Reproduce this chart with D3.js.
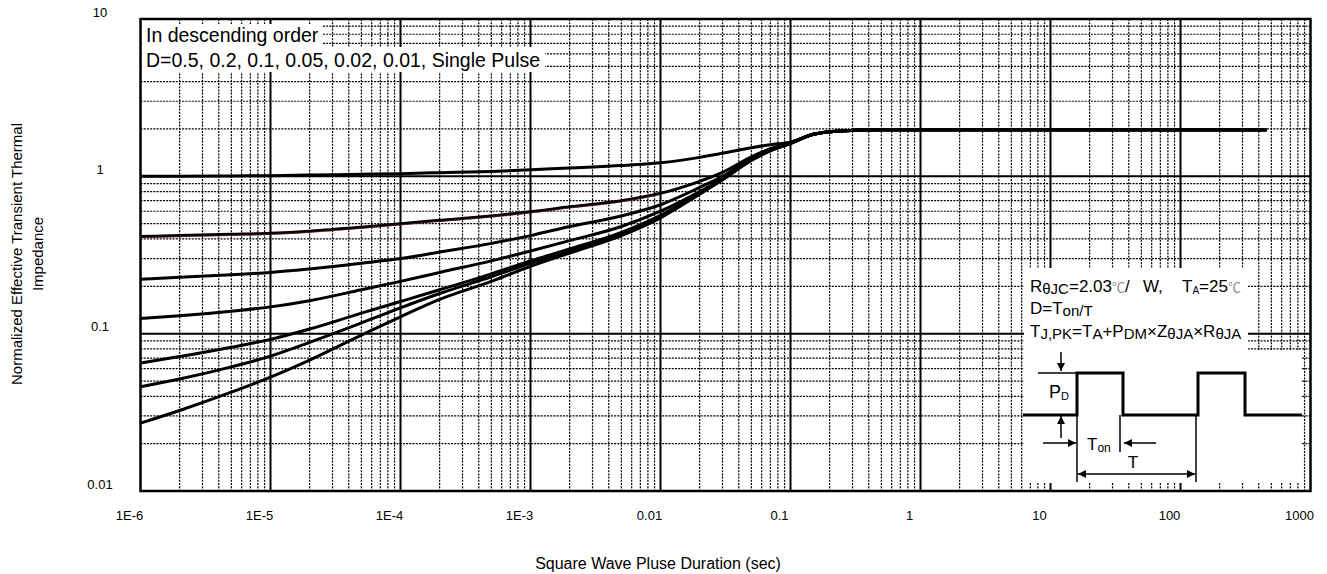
<!DOCTYPE html>
<html lang="en">
<head>
<meta charset="UTF-8">
<title>Normalized Effective Transient Thermal Impedance</title>
<script src="https://cdn.jsdelivr.net/npm/d3@7"></script>
<style>
    html, body {
        margin: 0;
        background: #fff;
    }
    svg {
        display: block;
        font-family: "Liberation Sans", Arial, sans-serif;
    }
</style>
</head>
<body>
<script>

    // pulse durations (sec) shared by every curve
    var pulseTime = [1e-6, 2e-6, 5e-6, 1e-5, 2e-5, 5e-5, 1e-4, 2e-4, 5e-4, 1e-3, 2e-3, 5e-3,
        1e-2, 2e-2, 3e-2, 5e-2, 7e-2, 0.1, 0.15, 0.2, 0.3, 0.5, 1, 10, 100, 460];

    // in descending order of duty cycle
    var zD50 = [1.00, 1.00, 1.005, 1.01, 1.02, 1.03, 1.04, 1.055, 1.075, 1.10, 1.13, 1.17,
        1.22, 1.32, 1.40, 1.52, 1.59, 1.65, 1.85, 1.92, 1.96, 1.975, 1.98, 1.98, 1.98, 1.98];
    var zD20 = [0.415, 0.42, 0.428, 0.435, 0.448, 0.475, 0.50, 0.525, 0.56, 0.595, 0.64, 0.70,
        0.78, 0.93, 1.06, 1.33, 1.50, 1.64, 1.85, 1.92, 1.96, 1.975, 1.98, 1.98, 1.98, 1.98];
    var zD10 = [0.222, 0.228, 0.237, 0.245, 0.258, 0.28, 0.30, 0.33, 0.375, 0.42, 0.48, 0.56,
        0.66, 0.85, 1.00, 1.30, 1.48, 1.63, 1.85, 1.92, 1.96, 1.975, 1.98, 1.98, 1.98, 1.98];
    var zD05 = [0.125, 0.13, 0.139, 0.148, 0.162, 0.19, 0.215, 0.245, 0.29, 0.335, 0.39, 0.48,
        0.60, 0.80, 0.97, 1.28, 1.47, 1.62, 1.85, 1.92, 1.96, 1.975, 1.98, 1.98, 1.98, 1.98];
    var zD02 = [0.065, 0.0715, 0.082, 0.092, 0.107, 0.135, 0.16, 0.19, 0.24, 0.29, 0.345, 0.44,
        0.565, 0.78, 0.96, 1.27, 1.46, 1.62, 1.85, 1.92, 1.96, 1.975, 1.98, 1.98, 1.98, 1.98];
    var zD01 = [0.046, 0.0515, 0.0615, 0.072, 0.088, 0.117, 0.146, 0.18, 0.23, 0.28, 0.335, 0.43,
        0.555, 0.775, 0.955, 1.27, 1.46, 1.62, 1.85, 1.92, 1.96, 1.975, 1.98, 1.98, 1.98, 1.98];
    var zSingle = [0.027, 0.0325, 0.0425, 0.053, 0.068, 0.098, 0.128, 0.165, 0.215, 0.268, 0.325, 0.42,
        0.545, 0.77, 0.95, 1.26, 1.45, 1.62, 1.85, 1.92, 1.96, 1.975, 1.98, 1.98, 1.98, 1.98];

    var seriesNames = ["D=0.5", "D=0.2", "D=0.1", "D=0.05", "D=0.02", "D=0.01", "Single Pulse"];
    var seriesValues = [zD50, zD20, zD10, zD05, zD02, zD01, zSingle];

    var xTickValues = [1e-6, 1e-5, 1e-4, 1e-3, 1e-2, 0.1, 1, 10, 100, 1000];
    var xTickLabels = ["1E-6", "1E-5", "1E-4", "1E-3", "0.01", "0.1", "1", "10", "100", "1000"];
    var yTickValues = [0.01, 0.1, 1, 10];
    var yTickLabels = ["0.01", "0.1", "1", "10"];

    var W = 1327, H = 574;
    var margin = {left: 140.5, right: 16.5, top: 19, bottom: 83};
    var width = W - margin.left - margin.right;
    var height = H - margin.top - margin.bottom;

    var x = d3.scaleLog().domain([1e-6, 1000]).range([0, width]);
    var y = d3.scaleLog().domain([0.01, 10]).range([height, 0]);

    var svg = d3.select("body").append("svg").attr("width", W).attr("height", H);

    var defs = svg.append("defs");
    defs.append("marker")
        .attr("id", "arrow")
        .attr("viewBox", "0 0 10 10")
        .attr("refX", 10).attr("refY", 5)
        .attr("markerUnits", "userSpaceOnUse")
        .attr("markerWidth", 9).attr("markerHeight", 8)
        .attr("orient", "auto-start-reverse")
        .append("path").attr("d", "M0,0 L10,5 L0,10 z").attr("fill", "#000");

    var chart = svg.append("g").attr("transform", "translate(" + margin.left + "," + margin.top + ")");

    // grid: minor dotted lines at 2..9 of each decade, solid lines at decades
    var xMinor = [], yMinor = [];
    d3.range(-6, 3).forEach(function (e) {
        d3.range(2, 10).forEach(function (k) { xMinor.push(k * Math.pow(10, e)); });
    });
    d3.range(-2, 1).forEach(function (e) {
        d3.range(2, 10).forEach(function (k) { yMinor.push(k * Math.pow(10, e)); });
    });
    var xMajor = xTickValues.slice(1, -1);
    var yMajor = yTickValues.slice(1, -1);

    var grid = chart.append("g").attr("class", "grid");
    grid.selectAll("line.vminor").data(xMinor).enter().append("line")
        .attr("class", "vminor")
        .attr("x1", function (d) { return x(d); }).attr("x2", function (d) { return x(d); })
        .attr("y1", 0).attr("y2", height)
        .attr("stroke", "#000").attr("stroke-width", 1.2).attr("stroke-dasharray", "2,1.2");
    grid.selectAll("line.hminor").data(yMinor).enter().append("line")
        .attr("class", "hminor")
        .attr("y1", function (d) { return y(d); }).attr("y2", function (d) { return y(d); })
        .attr("x1", 0).attr("x2", width)
        .attr("stroke", "#000").attr("stroke-width", 1.2).attr("stroke-dasharray", "2,1.2");
    grid.selectAll("line.vmajor").data(xMajor).enter().append("line")
        .attr("class", "vmajor")
        .attr("x1", function (d) { return x(d); }).attr("x2", function (d) { return x(d); })
        .attr("y1", 0).attr("y2", height)
        .attr("stroke", "#000").attr("stroke-width", 2);
    grid.selectAll("line.hmajor").data(yMajor).enter().append("line")
        .attr("class", "hmajor")
        .attr("y1", function (d) { return y(d); }).attr("y2", function (d) { return y(d); })
        .attr("x1", 0).attr("x2", width)
        .attr("stroke", "#000").attr("stroke-width", 2);

    // white backgrounds of the text boxes (page coordinates)
    var boxes = [[142, 24, 180, 23], [142, 47, 403, 25], [1024, 268, 224, 82], [1024, 350, 278, 133]];
    svg.selectAll("rect.bg").data(boxes).enter().append("rect")
        .attr("class", "bg")
        .attr("x", function (d) { return d[0]; }).attr("y", function (d) { return d[1]; })
        .attr("width", function (d) { return d[2]; }).attr("height", function (d) { return d[3]; })
        .attr("fill", "#fff");

    chart.append("rect")
        .attr("width", width).attr("height", height)
        .attr("fill", "none").attr("stroke", "#000").attr("stroke-width", 2.5);

    // axes
    var xAxis = d3.axisBottom(x).tickValues(xTickValues)
        .tickFormat(function (d, i) { return xTickLabels[i]; }).tickSize(0);
    var gx = chart.append("g").attr("transform", "translate(0," + height + ")").call(xAxis);
    gx.select(".domain").remove();
    gx.selectAll("text")
        .attr("x", -11.5).attr("y", 29).attr("dy", 0)
        .attr("font-size", 13).attr("font-family", "Liberation Sans, Arial, sans-serif").attr("fill", "#000");

    var yAxis = d3.axisLeft(y).tickValues(yTickValues)
        .tickFormat(function (d, i) { return yTickLabels[i]; }).tickSize(0);
    var gy = chart.append("g").call(yAxis);
    gy.select(".domain").remove();
    gy.selectAll("text")
        .attr("x", -40.5).attr("y", -7).attr("text-anchor", "middle")
        .attr("font-size", 13).attr("font-family", "Liberation Sans, Arial, sans-serif").attr("fill", "#000");

    svg.append("text")
        .attr("x", 658).attr("y", 569).attr("text-anchor", "middle")
        .attr("font-size", 16)
        .text("Square Wave Pluse Duration (sec)");

    var yTitle = svg.append("text")
        .attr("transform", "translate(0,254) rotate(-90)")
        .attr("text-anchor", "middle").attr("font-size", 15);
    yTitle.append("tspan").attr("x", 0).attr("y", 22).text("Normalized Effective Transient Thermal");
    yTitle.append("tspan").attr("x", 0).attr("y", 43).text("Impedance");

    // curves
    var zLine = d3.line()
        .x(function (d) { return x(d[0]); })
        .y(function (d) { return y(d[1]); })
        .curve(d3.curveMonotoneX);

    seriesValues.forEach(function (vals, s) {
        var pts = pulseTime.map(function (t, i) { return [t, vals[i]]; });
        chart.append("path")
            .datum(pts)
            .attr("class", "curve")
            .attr("data-name", seriesNames[s])
            .attr("d", zLine)
            .attr("fill", "none").attr("stroke", "#000").attr("stroke-width", 3)
            .attr("stroke-linejoin", "round");
        if (s === 1) {
            // the D=0.2 trace has a faint dark red edge in the original
            chart.append("path").datum(pts.slice(0, 13)).attr("d", zLine)
                .attr("transform", "translate(0,1.2)")
                .attr("fill", "none").attr("stroke", "#8a2020").attr("stroke-width", 0.8)
                .attr("opacity", 0.7);
        }
    });

    // legend text, top left
    var legend = svg.append("text").attr("font-size", 19.5).attr("fill", "#000");
    legend.append("tspan").attr("x", 146).attr("y", 42).text("In descending order");
    legend.append("tspan").attr("x", 146).attr("y", 67)
        .text("D=" + seriesNames.slice(0, 6).map(function (n) { return n.slice(2); }).join(", ") + ", " + seriesNames[6]);

    // formula block, lower right
    var note = svg.append("g").attr("font-size", 17).attr("fill", "#000");
    var l1 = note.append("text").attr("x", 1030).attr("y", 292);
    l1.append("tspan").text("R");
    l1.append("tspan").attr("font-size", 15).attr("dy", 2).text("θJC");
    l1.append("tspan").attr("dy", -2).text("=2.03");
    l1.append("tspan").attr("font-family", "Noto Sans CJK SC, DejaVu Sans, sans-serif")
        .attr("font-size", 13).attr("fill", "#8c8c8c").text("℃");
    l1.append("tspan").text("/");
    l1.append("tspan").attr("x", 1143).text("W,");
    l1.append("tspan").attr("x", 1182).text("T");
    l1.append("tspan").attr("font-size", 10).attr("dy", 2).text("A");
    l1.append("tspan").attr("dy", -2).text("=25");
    l1.append("tspan").attr("font-family", "Noto Sans CJK SC, DejaVu Sans, sans-serif")
        .attr("font-size", 13).attr("fill", "#8c8c8c").text("℃");

    var l2 = note.append("text").attr("x", 1030).attr("y", 314);
    l2.append("tspan").text("D=T");
    l2.append("tspan").attr("font-size", 15).attr("dy", 2).text("on/T");

    var l3 = note.append("text").attr("x", 1030).attr("y", 337);
    [["T", 0], ["J,PK", 1], ["=T", 0], ["A", 1], ["+P", 0], ["DM", 1], ["×Z", 0], ["θJA", 1], ["×R", 0], ["θJA", 1]]
        .forEach(function (p, i) {
            l3.append("tspan")
                .attr("font-size", p[1] ? 15 : 17)
                .attr("dy", i === 0 ? 0 : (p[1] ? 2 : -2))
                .text(p[0]);
        });

    // pulse train sketch
    var sketch = svg.append("g").attr("fill", "none").attr("stroke", "#000");
    sketch.append("path")
        .attr("d", "M1023,415 H1077 V373 H1123 V415 H1198 V373 H1245 V415 H1302")
        .attr("stroke-width", 3);
    var thin = [[1038, 373, 1077, 373], [1077, 373, 1077, 482], [1120, 415, 1120, 452], [1196, 415, 1196, 482]];
    thin.forEach(function (l) {
        sketch.append("line").attr("x1", l[0]).attr("y1", l[1]).attr("x2", l[2]).attr("y2", l[3])
            .attr("stroke-width", 1.5);
    });
    var arrows = [[1061, 352, 1061, 371], [1061, 438, 1061, 416], [1043, 443, 1076, 443], [1156, 443, 1124, 443]];
    arrows.forEach(function (l) {
        sketch.append("line").attr("x1", l[0]).attr("y1", l[1]).attr("x2", l[2]).attr("y2", l[3])
            .attr("stroke-width", 1.5).attr("marker-end", "url(#arrow)");
    });
    sketch.append("line").attr("x1", 1078).attr("y1", 474).attr("x2", 1195).attr("y2", 474)
        .attr("stroke-width", 1.5)
        .attr("marker-start", "url(#arrow)").attr("marker-end", "url(#arrow)");

    var pd = svg.append("text").attr("x", 1049).attr("y", 398).attr("font-size", 18);
    pd.append("tspan").text("P");
    pd.append("tspan").attr("font-size", 11).attr("dy", 2).text("D");
    var ton = svg.append("text").attr("x", 1087).attr("y", 450).attr("font-size", 17);
    ton.append("tspan").text("T");
    ton.append("tspan").attr("font-size", 12).attr("dy", 2).text("on");
    svg.append("text").attr("x", 1133).attr("y", 468).attr("text-anchor", "middle")
        .attr("font-size", 17).text("T");

</script>
</body>
</html>
